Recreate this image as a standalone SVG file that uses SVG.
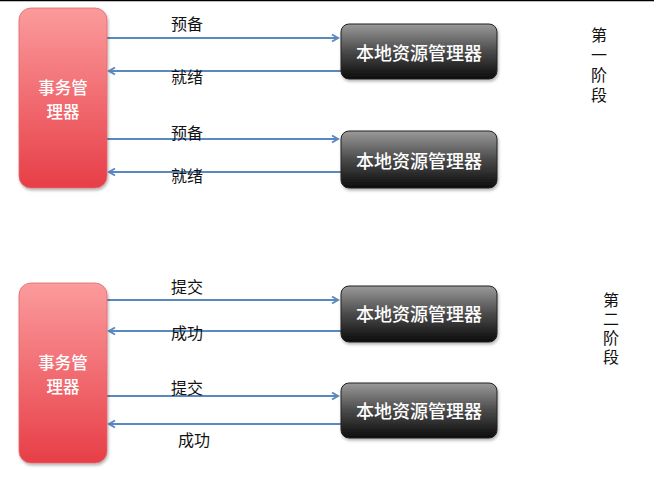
<svg xmlns="http://www.w3.org/2000/svg" width="654" height="495" viewBox="0 0 654 495">
<defs>
<linearGradient id="red" x1="0" y1="0" x2="0" y2="1">
<stop offset="0" stop-color="#fb9b9c"/>
<stop offset="1" stop-color="#e73e47"/>
</linearGradient>
<linearGradient id="blk" x1="0" y1="0" x2="0" y2="1">
<stop offset="0" stop-color="#9a9a9a"/>
<stop offset="0.5" stop-color="#4a4a4a"/>
<stop offset="1" stop-color="#0c0c0c"/>
</linearGradient>
<filter id="sh" x="-10%" y="-10%" width="130%" height="130%">
<feDropShadow dx="1" dy="2" stdDeviation="1.5" flood-color="#000" flood-opacity="0.3"/>
</filter>
<marker id="ah" markerWidth="10" markerHeight="10" refX="8" refY="5" orient="auto" markerUnits="userSpaceOnUse">
<path d="M2,1.5 L8,5 L2,8.5" fill="none" stroke="#5a89c0" stroke-width="2"/>
</marker>
</defs>
<style>
.tm{fill:url(#red);stroke:#e06a6e;stroke-width:0.8;filter:url(#sh)}
.rm{fill:url(#blk);stroke:#222;stroke-width:1;filter:url(#sh)}
.wt{font-family:"Noto Sans CJK SC","Noto Sans",sans-serif;fill:#fff;text-anchor:middle;font-weight:500}
.lb{font-family:"Noto Sans CJK SC","Noto Sans",sans-serif;fill:#111;font-size:16px;text-anchor:middle}
.ph{font-family:"Noto Sans CJK SC","Noto Sans",sans-serif;fill:#111;font-size:16px;writing-mode:vertical-rl;text-orientation:upright}
.c{stroke:#5a89c0;stroke-width:2;fill:none;marker-end:url(#ah)}
</style>
<rect width="654" height="495" fill="#fff"/>
<line x1="0" y1="0.5" x2="654" y2="0.5" stroke="#000" stroke-width="1.5"/>

<g id="connectors">
<line class="c" x1="107" y1="38" x2="338" y2="38"/>
<line class="c" x1="341" y1="71" x2="109" y2="71"/>
<line class="c" x1="107" y1="139" x2="338" y2="139"/>
<line class="c" x1="341" y1="172" x2="109" y2="172"/>
<line class="c" x1="107" y1="300" x2="338" y2="300"/>
<line class="c" x1="341" y1="331" x2="109" y2="331"/>
<line class="c" x1="107" y1="396" x2="338" y2="396"/>
<line class="c" x1="341" y1="424" x2="109" y2="424"/>
<text class="lb" x="187" y="30">预备</text>
<text class="lb" x="187" y="83">就绪</text>
<text class="lb" x="187" y="139">预备</text>
<text class="lb" x="187" y="182">就绪</text>
<text class="lb" x="187" y="293">提交</text>
<text class="lb" x="187" y="339">成功</text>
<text class="lb" x="187" y="394">提交</text>
<text class="lb" x="194" y="446">成功</text>
</g>

<g id="tm1">
<rect class="tm" x="19" y="8" width="88" height="180" rx="12"/>
<text class="wt" font-size="16.5"><tspan x="63" y="94">事务管</tspan><tspan x="63" y="118">理器</tspan></text>
</g>
<g id="tm2">
<rect class="tm" x="19" y="283" width="88" height="180" rx="12"/>
<text class="wt" font-size="16.5"><tspan x="63" y="369">事务管</tspan><tspan x="63" y="393">理器</tspan></text>
</g>

<g id="rm1">
<rect class="rm" x="341" y="24" width="156" height="55" rx="8"/>
<text class="wt" font-size="18" x="419" y="60">本地资源管理器</text>
</g>
<g id="rm2">
<rect class="rm" x="341" y="131" width="156" height="57" rx="8"/>
<text class="wt" font-size="18" x="419" y="168">本地资源管理器</text>
</g>
<g id="rm3">
<rect class="rm" x="341" y="286" width="156" height="56" rx="8"/>
<text class="wt" font-size="18" x="419" y="321">本地资源管理器</text>
</g>
<g id="rm4">
<rect class="rm" x="341" y="383" width="156" height="55" rx="8"/>
<text class="wt" font-size="18" x="419" y="418">本地资源管理器</text>
</g>

<g id="phase1">
<text class="ph" x="599" y="27" letter-spacing="4">第一阶段</text>
</g>
<g id="phase2">
<text class="ph" x="611" y="292" letter-spacing="3">第二阶段</text>
</g>
</svg>
